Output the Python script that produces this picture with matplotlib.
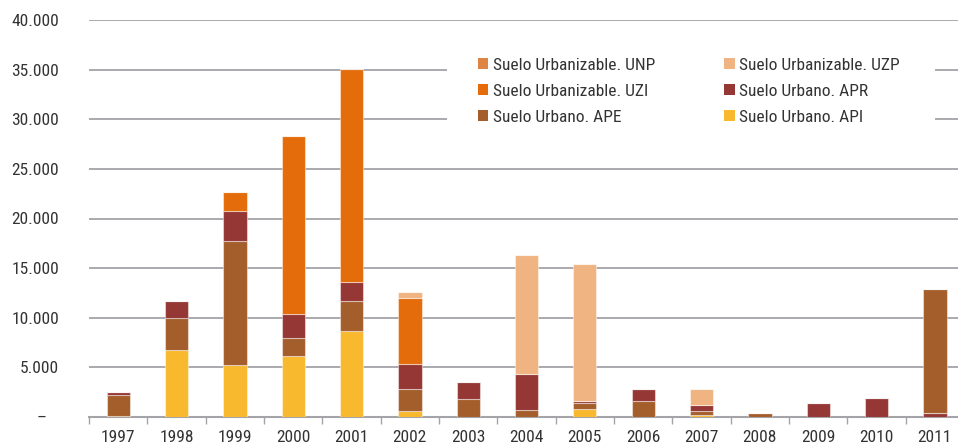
import matplotlib.pyplot as plt
import matplotlib.patches as patches
from matplotlib import font_manager as fm
import numpy as np

# buscar una fuente estrecha si existe
fam, stretch = 'DejaVu Sans', 'normal'
names = {f.name for f in fm.fontManager.ttflist}
for cand in ['Liberation Sans Narrow', 'Roboto Condensed', 'Open Sans Condensed',
             'Noto Sans Condensed', 'DejaVu Sans Condensed']:
    if cand in names:
        fam = cand
        break
else:
    for f in fm.fontManager.ttflist:
        if f.stretch in ('condensed', 'semi-condensed') and f.style == 'normal' and f.weight in (400, 'normal', 'regular'):
            fam, stretch = f.name, f.stretch
            break
plt.rcParams['font.family'] = [fam, 'DejaVu Sans']
plt.rcParams['font.stretch'] = stretch

years = ['1997', '1998', '1999', '2000', '2001', '2002', '2003', '2004',
         '2005', '2006', '2007', '2008', '2009', '2010', '2011']

# superficie por clase de suelo
api = [130, 6720, 5280, 6180, 8640, 600, 0, 0, 810, 0, 170, 0, 0, 0, 0]
ape = [2120, 3230, 12430, 1820, 3060, 2260, 1850, 710, 600, 1580, 470, 370, 0, 0, 12500]
apr = [240, 1780, 3030, 2390, 1880, 2520, 1650, 3660, 170, 1210, 600, 0, 1450, 1920, 370]
uzi = [0, 0, 1920, 17910, 21480, 6620, 0, 0, 0, 0, 0, 0, 0, 0, 0]
uzp = [0, 0, 0, 0, 0, 570, 0, 12000, 13880, 0, 1620, 0, 0, 0, 0]
unp = [0] * 15

series = {
    'Suelo Urbano. API': (api, '#F9B92E'),
    'Suelo Urbano. APE': (ape, '#A35E2C'),
    'Suelo Urbano. APR': (apr, '#953735'),
    'Suelo Urbanizable. UZI': (uzi, '#E46C0A'),
    'Suelo Urbanizable. UZP': (uzp, '#F0B483'),
    'Suelo Urbanizable. UNP': (unp, '#DE8544'),
}
order = list(series.keys())
# en 2011 el APR aparece debajo del APE
order_override = {'2011': ['Suelo Urbano. APR', 'Suelo Urbano. API', 'Suelo Urbano. APE',
                           'Suelo Urbanizable. UZI', 'Suelo Urbanizable. UZP',
                           'Suelo Urbanizable. UNP']}

fig = plt.figure(figsize=(9.58, 4.47), dpi=100)
ax = fig.add_axes([89 / 958, 30 / 447, 875 / 958, 397 / 447])

x = np.arange(len(years))
w = 0.4
for i, yr in enumerate(years):
    bottom = 0
    for name in order_override.get(yr, order):
        vals, col = series[name]
        v = vals[i]
        ax.bar(x[i], v, w, bottom=bottom, color=col,
               edgecolor=(1, 1, 1, 0.45), linewidth=0.8, zorder=3)
        bottom += v

ax.set_xlim(-0.5, len(years) - 0.5)
ax.set_ylim(0, 40000)

yt = np.arange(0, 40001, 5000)
ax.set_yticks(yt)
ax.set_yticklabels(['–   '] + [f'{v:,}'.replace(',', '.') for v in yt[1:]])
ax.tick_params(axis='y', length=0, pad=21.5, labelsize=12.5, labelcolor='#333333')
ax.yaxis.grid(True, color='#a4a4a8', linewidth=1.3, zorder=0)
ax.set_axisbelow(True)

ax.set_xticks(np.arange(-0.5, len(years)), labels=[''] * (len(years) + 1))
ax.set_xticks(x, labels=years, minor=True)
ax.tick_params(axis='x', which='major', length=5, width=1, color='#a4a4a8', direction='out')
ax.tick_params(axis='x', which='minor', length=0, pad=9, labelsize=12.5, labelcolor='#333333')

for s in ['top', 'right', 'left']:
    ax.spines[s].set_visible(False)
ax.spines['bottom'].set_color('#a4a4a8')
ax.spines['bottom'].set_linewidth(1.5)

# fondo blanco de la leyenda (tapa la rejilla)
bg = patches.Rectangle((358 / 875, 257 / 397), 488 / 875, 130 / 397, transform=ax.transAxes,
                       facecolor='white', edgecolor='none', zorder=4)
ax.add_patch(bg)

leg_names = ['Suelo Urbanizable. UNP', 'Suelo Urbanizable. UZI', 'Suelo Urbano. APE',
             'Suelo Urbanizable. UZP', 'Suelo Urbano. APR', 'Suelo Urbano. API']
leg_handles = [patches.Patch(facecolor=series[n][1], edgecolor='none') for n in leg_names]
leg = ax.legend(leg_handles, leg_names, ncol=2, loc='upper left',
                bbox_to_anchor=(389 / 875, 1 - 38 / 397), fontsize=12.5,
                frameon=False, borderpad=0, borderaxespad=0, handlelength=0.6, handleheight=0.6,
                handletextpad=0.25, columnspacing=4.0, labelspacing=0.62)
for t in leg.get_texts():
    t.set_color('#333333')
leg.set_zorder(5)

fig.savefig('out.png', dpi=100)
